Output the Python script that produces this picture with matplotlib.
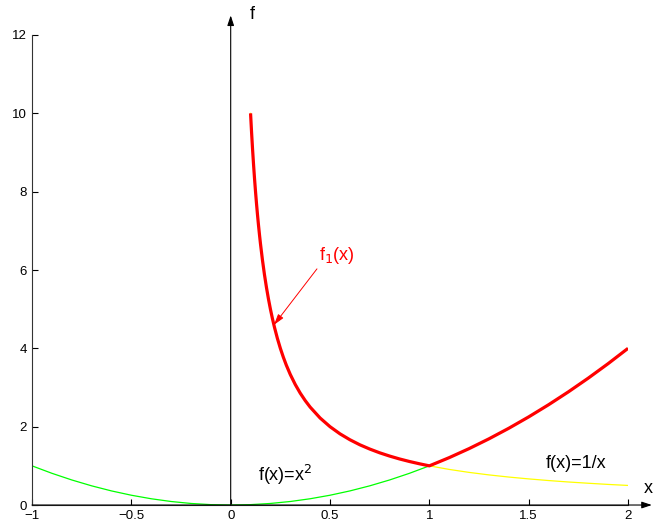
import numpy as np
import matplotlib
matplotlib.use("Agg")
import matplotlib.pyplot as plt

plt.rcParams['font.family'] = ['Liberation Sans', 'DejaVu Sans']

# green series: f(x) = x^2
sq_x = [-1.0, -0.9, -0.8, -0.7, -0.6, -0.5, -0.4, -0.3, -0.2, -0.1, 0.0,
        0.1, 0.2, 0.3, 0.4, 0.5, 0.6, 0.7, 0.8, 0.9, 1.0,
        1.1, 1.2, 1.3, 1.4, 1.5, 1.6, 1.7, 1.8, 1.9, 2.0]
sq_y = [1.0, 0.81, 0.64, 0.49, 0.36, 0.25, 0.16, 0.09, 0.04, 0.01, 0.0,
        0.01, 0.04, 0.09, 0.16, 0.25, 0.36, 0.49, 0.64, 0.81, 1.0,
        1.21, 1.44, 1.69, 1.96, 2.25, 2.56, 2.89, 3.24, 3.61, 4.0]

# yellow series: f(x) = 1/x
inv_x = [0.10, 0.105, 0.11, 0.115, 0.12, 0.125, 0.13, 0.135, 0.14, 0.145, 0.15,
         0.16, 0.17, 0.18, 0.19, 0.20, 0.21, 0.22, 0.235, 0.25, 0.265,
         0.28, 0.30, 0.325, 0.35, 0.375, 0.40, 0.45, 0.50, 0.55, 0.60, 0.65,
         0.70, 0.75, 0.80, 0.85, 0.90, 0.95,
         1.0, 1.1, 1.2, 1.3, 1.4, 1.5, 1.6, 1.7, 1.8, 1.9, 2.0]
inv_y = [10.0, 9.524, 9.091, 8.696, 8.333, 8.0, 7.692, 7.407, 7.143, 6.897, 6.667,
         6.25, 5.882, 5.556, 5.263, 5.0, 4.762, 4.545, 4.255, 4.0, 3.774,
         3.571, 3.333, 3.077, 2.857, 2.667, 2.5, 2.222, 2.0, 1.818, 1.667, 1.538,
         1.429, 1.333, 1.25, 1.176, 1.111, 1.053,
         1.0, 0.909, 0.833, 0.769, 0.714, 0.667, 0.625, 0.588, 0.556, 0.526, 0.5]

# red series: f1(x) = max of the two
red_x = np.array(inv_x)
red_y = np.maximum(np.array(inv_y), np.interp(red_x, sq_x, sq_y))

xticks = [-1, -0.5, 0, 0.5, 1, 1.5, 2]
xticklabels = ['\u22121', '\u22120.5', '0', '0.5', '1', '1.5', '2']
yticks = [0, 2, 4, 6, 8, 10, 12]

fig = plt.figure(figsize=(6.55, 5.27), dpi=100)
ax = fig.add_axes([0.0489, 0.0417, 0.9099, 0.8919])

ax.plot(sq_x, sq_y, color=(0, 1, 0), lw=0.9, zorder=2)
ax.plot(inv_x, inv_y, color=(1, 1, 0), lw=0.9, zorder=2)
ax.plot(red_x, red_y, color=(1, 0, 0), lw=2.3, zorder=3, solid_capstyle='butt')

ax.set_xlim(-1, 2)
ax.set_ylim(0, 12)
ax.set_xticks(xticks)
ax.set_xticklabels(xticklabels)
ax.set_yticks(yticks)
ax.tick_params(direction='in', length=4, width=0.8, labelsize=9.5, colors='black')
for s in ['top', 'right']:
    ax.spines[s].set_visible(False)
for s in ['left', 'bottom']:
    ax.spines[s].set_linewidth(0.8)
    ax.spines[s].set_color('#333333')

# coordinate axes arrows
ax.annotate('', xy=(0, 12.5), xytext=(0, 0), annotation_clip=False,
            arrowprops=dict(arrowstyle='-|>,head_length=0.6,head_width=0.2',
                            color='black', lw=0.8, shrinkA=0, shrinkB=0))
ax.annotate('', xy=(2.12, 0), xytext=(-1, 0), annotation_clip=False,
            arrowprops=dict(arrowstyle='-|>,head_length=0.6,head_width=0.2',
                            color='black', lw=0.8, shrinkA=0, shrinkB=0))

ax.text(0.095, 12.3, 'f', fontsize=13, ha='left', va='bottom', clip_on=False)
ax.text(2.08, 0.2, 'x', fontsize=13, ha='left', va='bottom', clip_on=False)

ax.text(0.135, 0.45, r'f(x)=x$^{2}$', fontsize=13, ha='left', va='bottom')
ax.text(1.585, 0.85, 'f(x)=1/x', fontsize=13, ha='left', va='bottom')

ax.annotate(r'f$_{1}$(x)', xy=(0.218, 4.6), xytext=(0.445, 6.1),
            color=(1, 0, 0), fontsize=13, ha='left', va='bottom',
            arrowprops=dict(arrowstyle='-|>,head_length=0.5,head_width=0.15',
                            color=(1, 0, 0), lw=0.7, shrinkA=0, shrinkB=0,
                            relpos=(0.0, 0.0)))

fig.savefig('out.png', dpi=100)
